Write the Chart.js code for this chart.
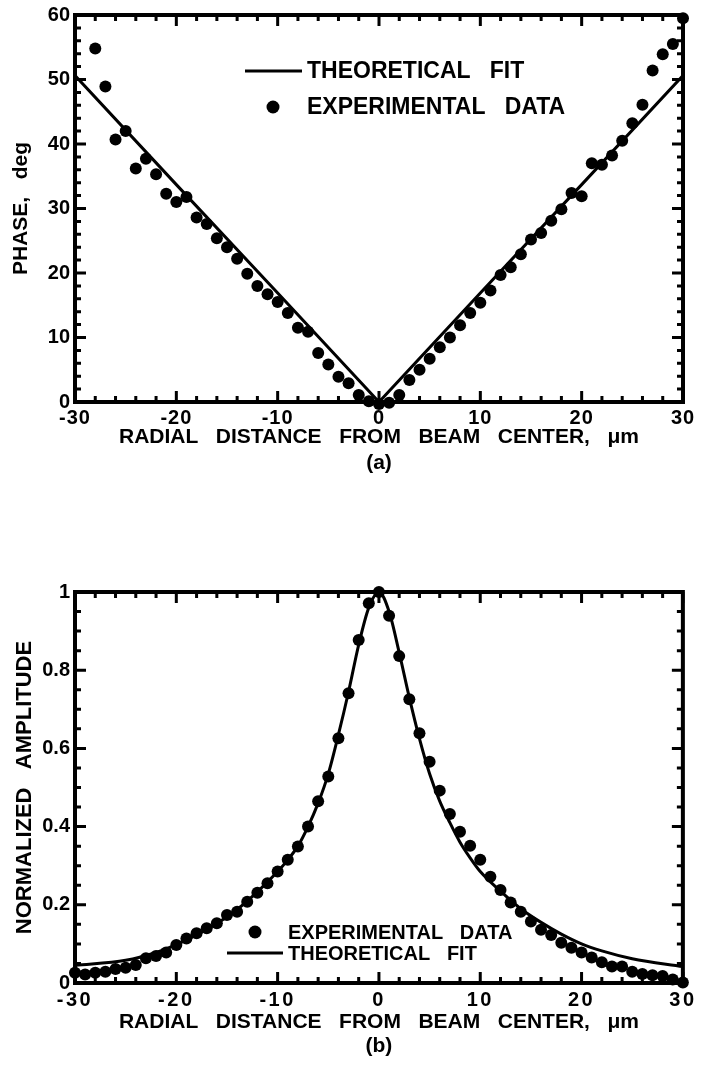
<!DOCTYPE html>
<html>
<head>
<meta charset="utf-8">
<script src="https://cdn.jsdelivr.net/npm/chart.js@4.4.0/dist/chart.umd.min.js"></script>
<style>
  body { margin: 0; background: #fff; width: 701px; height: 1067px; overflow: hidden; }
  canvas { position: absolute; left: 0; }
  #phaseChart { top: 0; }
  #ampChart { top: 540px; }
</style>
</head>
<body>
<canvas id="phaseChart" width="701" height="480"></canvas>
<canvas id="ampChart" width="701" height="527"></canvas>
<script>
// (a) phase vs radial distance
const phaseX = [-28, -27, -26, -25, -24, -23, -22, -21, -20, -19, -18, -17, -16, -15, -14, -13, -12, -11, -10, -9,
  -8, -7, -6, -5, -4, -3, -2, -1, 0, 1, 2, 3, 4, 5, 6, 7, 8, 9, 10, 11,
  12, 13, 14, 15, 16, 17, 18, 19, 20, 21, 22, 23, 24, 25, 26, 27, 28, 29, 30];
const phaseExp = [54.8, 48.9, 40.7, 42.0, 36.2, 37.7, 35.3, 32.3, 31.0, 31.8, 28.6, 27.6, 25.4, 24.0, 22.2, 19.9, 18.0, 16.7, 15.5, 13.8,
  11.5, 10.9, 7.6, 5.8, 3.9, 2.9, 1.1, 0.1, -0.3, -0.1, 1.1, 3.4, 5.0, 6.7, 8.5, 10.0, 11.9, 13.8, 15.4, 17.3,
  19.7, 20.9, 22.9, 25.2, 26.2, 28.1, 29.9, 32.4, 31.9, 37.0, 36.8, 38.2, 40.5, 43.2, 46.1, 51.4, 53.9, 55.5, 59.5];
const phaseFitX = [-30, -20, -10, 0, 10, 20, 30];
const phaseFit = [50.6, 33.7, 16.9, 0, 16.9, 33.7, 50.6];

// (b) normalized amplitude vs radial distance
const ampX = [-30, -29, -28, -27, -26, -25, -24, -23, -22, -21, -20, -19, -18, -17, -16, -15, -14, -13, -12, -11,
  -10, -9, -8, -7, -6, -5, -4, -3, -2, -1, 0, 1, 2, 3, 4, 5, 6, 7, 8, 9,
  10, 11, 12, 13, 14, 15, 16, 17, 18, 19, 20, 21, 22, 23, 24, 25, 26, 27, 28, 29, 30];
const ampExp = [0.026, 0.022, 0.026, 0.029, 0.036, 0.039, 0.046, 0.063, 0.069, 0.078, 0.097, 0.114, 0.127, 0.140, 0.153, 0.174, 0.182, 0.208, 0.231, 0.255,
  0.285, 0.315, 0.349, 0.400, 0.465, 0.528, 0.626, 0.741, 0.877, 0.971, 1.000, 0.939, 0.836, 0.726, 0.639, 0.566, 0.492, 0.432, 0.387, 0.351,
  0.315, 0.272, 0.238, 0.206, 0.182, 0.157, 0.136, 0.123, 0.103, 0.090, 0.078, 0.065, 0.053, 0.042, 0.042, 0.029, 0.023, 0.020, 0.018, 0.009, 0.001];
const ampFitX = [-30, -25, -22, -20, -18, -16, -14, -12, -10, -9, -8, -7, -6, -5, -4, -3, -2, -1, 0,
  1, 2, 3, 4, 5, 6, 7, 8, 9, 10, 12, 14, 16, 18, 20, 22, 25, 30];
const ampFit = [0.045, 0.058, 0.078, 0.098, 0.123, 0.152, 0.188, 0.233, 0.285, 0.315, 0.350, 0.400, 0.460, 0.535, 0.635, 0.745, 0.865, 0.960, 1.000,
  0.950, 0.845, 0.730, 0.625, 0.535, 0.465, 0.410, 0.360, 0.320, 0.285, 0.235, 0.190, 0.155, 0.125, 0.100, 0.082, 0.062, 0.042];

const xTicks = [-30, -20, -10, 0, 10, 20, 30];
const phaseTicks = [0, 10, 20, 30, 40, 50, 60];
const ampTicks = [0, 0.2, 0.4, 0.6, 0.8, 1];

Chart.defaults.font.family = '"Liberation Sans", Arial, Helvetica, sans-serif';
Chart.defaults.font.weight = 'bold';
Chart.defaults.color = '#000';

const toPoints = (xs, ys) => xs.map((x, i) => ({x: x, y: ys[i]}));

// boxed frame with inward ticks on all four sides
function frameTicks(xMinor, xMajor, yMinor, yMajor) {
  return {
    id: 'frameTicks',
    beforeDatasetsDraw(chart) {
      const {ctx, chartArea: a, scales: {x, y}} = chart;
      ctx.save();
      ctx.strokeStyle = '#000';
      ctx.lineWidth = 3;
      ctx.beginPath();
      let n = Math.round((x.max - x.min) / xMinor);
      for (let i = 0; i <= n; i++) {
        const v = x.min + i * xMinor;
        const r = v / xMajor;
        const len = Math.abs(r - Math.round(r)) < 1e-6 ? 11 : 6;
        const px = x.getPixelForValue(v);
        ctx.moveTo(px, a.bottom); ctx.lineTo(px, a.bottom - len);
        ctx.moveTo(px, a.top); ctx.lineTo(px, a.top + len);
      }
      n = Math.round((y.max - y.min) / yMinor);
      for (let i = 0; i <= n; i++) {
        const v = y.min + i * yMinor;
        const r = v / yMajor;
        const len = Math.abs(r - Math.round(r)) < 1e-6 ? 11 : 6;
        const py = y.getPixelForValue(v);
        ctx.moveTo(a.left, py); ctx.lineTo(a.left + len, py);
        ctx.moveTo(a.right, py); ctx.lineTo(a.right - len, py);
      }
      ctx.stroke();
      ctx.lineWidth = 4;
      ctx.strokeRect(a.left, a.top, a.right - a.left, a.bottom - a.top);
      ctx.restore();
    }
  };
}

// legend drawn inside the plot, text taken from dataset labels
// spacing: letter spacing used afterwards for the x tick labels (drawn on z:1 layer)
function inlineLegend(items, size, spacing) {
  return {
    id: 'inlineLegend',
    afterDatasetsDraw(chart) {
      const ctx = chart.ctx;
      ctx.save();
      ctx.fillStyle = '#000';
      ctx.strokeStyle = '#000';
      ctx.font = 'bold ' + size + 'px "Liberation Sans", Arial, sans-serif';
      ctx.textBaseline = 'middle';
      items.forEach(it => {
        const ds = chart.data.datasets[it.ds];
        if (ds.showLine) {
          ctx.lineWidth = 3;
          ctx.beginPath();
          ctx.moveTo(it.x0, it.y);
          ctx.lineTo(it.x1, it.y);
          ctx.stroke();
        } else {
          ctx.beginPath();
          ctx.arc((it.x0 + it.x1) / 2, it.y, 6.5, 0, Math.PI * 2);
          ctx.fill();
        }
        ctx.fillText(ds.label, it.tx, it.y + 1);
      });
      ctx.restore();
      ctx.letterSpacing = spacing;
    },
    afterDraw(chart) {
      chart.ctx.letterSpacing = '0px';
    }
  };
}

function scatterSet(label, pts) {
  return {
    type: 'scatter', label: label, data: pts, showLine: false,
    pointRadius: 6, pointHoverRadius: 6, pointBorderWidth: 0,
    backgroundColor: '#000', borderColor: '#000', clip: false
  };
}

function fitSet(label, pts, tension, mode) {
  return {
    type: 'line', label: label, data: pts, showLine: true,
    pointRadius: 0, borderWidth: 3, borderColor: '#000', fill: false,
    tension: tension, cubicInterpolationMode: mode
  };
}

function axes(o) {
  return {
    x: {
      type: 'linear', min: -30, max: 30,
      afterBuildTicks: s => { s.ticks = xTicks.map(v => ({value: v})); },
      afterFit: s => { s.height = o.xHeight; },
      grid: {display: false, drawTicks: false},
      border: {display: false},
      ticks: {autoSkip: false, maxRotation: 0, padding: o.xPad, z: 1, font: {size: 20, lineHeight: 1}},
      title: {
        display: true, text: o.xTitle, align: 'center',
        font: {size: 21, lineHeight: o.xTitleLH}, padding: {top: 0, bottom: o.xTitlePad}
      }
    },
    y: {
      type: 'linear', min: o.yMin, max: o.yMax,
      afterBuildTicks: s => { s.ticks = o.yTicks.map(v => ({value: v})); },
      afterFit: s => { s.width = 75; },
      grid: {display: false, drawTicks: false},
      border: {display: false},
      ticks: {
        autoSkip: false, padding: 5, font: {size: 20, lineHeight: 1},
        callback: v => String(+v.toFixed(2))
      },
      title: {
        display: true, text: o.yTitle,
        font: {size: o.yTitleSize, lineHeight: 1.2}, padding: {top: o.yTitlePad, bottom: 0}
      }
    }
  };
}

new Chart(document.getElementById('phaseChart'), {
  data: {
    datasets: [
      fitSet('THEORETICAL   FIT', toPoints(phaseFitX, phaseFit), 0, 'default'),
      scatterSet('EXPERIMENTAL   DATA', toPoints(phaseX, phaseExp))
    ]
  },
  options: {
    responsive: false,
    animation: false,
    layout: {padding: {top: 10, right: 18, bottom: 0, left: 0}},
    plugins: {legend: {display: false}, tooltip: {enabled: false}},
    scales: axes({
      xHeight: 78, xPad: 6, xTitlePad: 4, xTitleLH: '26px',
      xTitle: ['RADIAL   DISTANCE   FROM   BEAM   CENTER,   μm', '(a)'],
      yMin: 0, yMax: 60, yTicks: phaseTicks,
      yTitle: 'PHASE,   deg', yTitleSize: 21, yTitlePad: 9
    })
  },
  plugins: [
    frameTicks(2, 10, 2, 10),
    inlineLegend([
      {ds: 0, x0: 245, x1: 302, y: 71, tx: 307},
      {ds: 1, x0: 267, x1: 279, y: 107, tx: 307}
    ], 23, '1px')
  ]
});

new Chart(document.getElementById('ampChart'), {
  data: {
    datasets: [
      scatterSet('EXPERIMENTAL   DATA', toPoints(ampX, ampExp)),
      fitSet('THEORETICAL   FIT', toPoints(ampFitX, ampFit), 0.4, 'monotone')
    ]
  },
  options: {
    responsive: false,
    animation: false,
    layout: {padding: {top: 52, right: 18, bottom: 0, left: 0}},
    plugins: {legend: {display: false}, tooltip: {enabled: false}},
    scales: axes({
      xHeight: 84, xPad: 7, xTitlePad: 9, xTitleLH: '24px',
      xTitle: ['RADIAL   DISTANCE   FROM   BEAM   CENTER,   μm', '(b)'],
      yMin: 0, yMax: 1, yTicks: ampTicks,
      yTitle: 'NORMALIZED   AMPLITUDE', yTitleSize: 22, yTitlePad: 12
    })
  },
  plugins: [
    frameTicks(2, 10, 0.05, 0.2),
    inlineLegend([
      {ds: 0, x0: 249, x1: 261, y: 392, tx: 288},
      {ds: 1, x0: 227, x1: 283, y: 413, tx: 288}
    ], 20, '2.5px')
  ]
});
</script>
</body>
</html>
